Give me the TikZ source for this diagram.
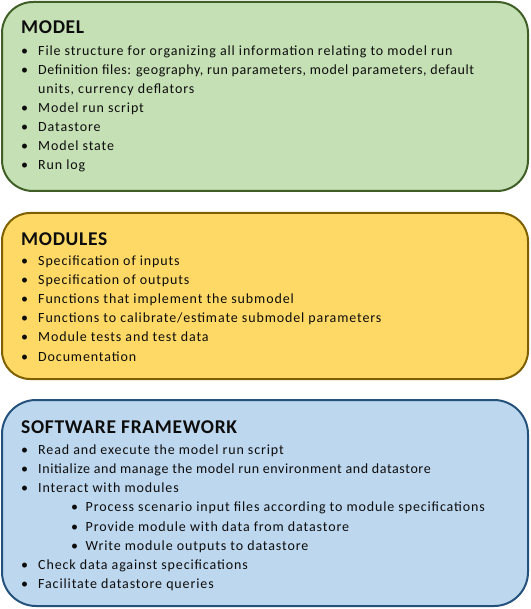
\documentclass[tikz,border=0pt]{standalone}
\usepackage{fontspec}
\setmainfont{Carlito}
\newfontfamily\bodyfam[LetterSpace=6.3]{Carlito}
\newfontfamily\tightfam[LetterSpace=4.2]{Carlito}
\newfontfamily\headfam[LetterSpace=3.5]{Carlito}
\definecolor{greenfill}{HTML}{C5E0B4}
\definecolor{greenline}{HTML}{3F5F26}
\definecolor{goldfill}{HTML}{FFD966}
\definecolor{goldline}{HTML}{7F6000}
\definecolor{bluefill}{HTML}{BDD7EE}
\definecolor{blueline}{HTML}{25527C}
\definecolor{ink}{HTML}{0D0D0D}
% bullet marker followed by a fixed gap before the item text
\newcommand\bul{\makebox[17pt][l]{\textbullet}}
\newcommand\subbul{\makebox[14.5pt][l]{\textbullet}}
\begin{document}
\begin{tikzpicture}[x=1pt,y=-1pt,
  panel/.style={rectangle, line width=2pt, inner sep=0pt},
  heading/.style={anchor=base west, inner sep=0pt, text=ink,
    font=\headfam\fontsize{19.5}{22}\selectfont\bfseries},
  entry/.style={anchor=base west, inner sep=0pt, text=ink,
    font=\bodyfam\fontsize{14}{17}\selectfont},
  tightentry/.style={entry, font=\tightfam\fontsize{14}{17}\selectfont}]
\useasboundingbox (0,0) rectangle (530,609);

% ---- MODEL panel
\node[panel, draw=greenline, fill=greenfill, rounded corners=31pt,
  minimum width=526pt, minimum height=189pt] (model) at (265,96.5) {};
\node[heading] (modelT) at (21,34) {MODEL};
\node[entry] (m1) at (21,56) {\bul File structure for organizing all information relating to model run};
\node[tightentry] (m2) at (21,75) {\bul Definition files: geography, run parameters, model parameters, default};
\node[entry] (m2b) at (38,94) {units, currency deflators};
\node[entry] (m3) at (21,113) {\bul Model run script};
\node[entry] (m4) at (21,132) {\bul Datastore};
\node[entry] (m5) at (21,151) {\bul Model state};
\node[entry] (m6) at (21,170) {\bul Run log};

% ---- MODULES panel
\node[panel, draw=goldline, fill=goldfill, rounded corners=28pt,
  minimum width=526pt, minimum height=166pt] (modules) at (265,296) {};
\node[heading] (modT) at (21,245) {MODULES};
\node[entry] (d1) at (21,265.5) {\bul Specification of inputs};
\node[entry] (d2) at (21,284.5) {\bul Specification of outputs};
\node[entry] (d3) at (21,303.5) {\bul Functions that implement the submodel};
\node[entry] (d4) at (21,322.5) {\bul Functions to calibrate/estimate submodel parameters};
\node[entry] (d5) at (21,341.5) {\bul Module tests and test data};
\node[entry] (d6) at (21,361) {\bul Documentation};

% ---- SOFTWARE FRAMEWORK panel
\node[panel, draw=blueline, fill=bluefill, rounded corners=34pt,
  minimum width=526pt, minimum height=206pt] (framework) at (265,503) {};
\node[heading] (fwT) at (21,433.5) {SOFTWARE FRAMEWORK};
\node[entry] (f1) at (21,454.5) {\bul Read and execute the model run script};
\node[tightentry] (f2) at (21,473.5) {\bul Initialize and manage the model run environment and datastore};
\node[entry] (f3) at (21,492.5) {\bul Interact with modules};
\node[entry] (f3a) at (71,511.5) {\subbul Process scenario input files according to module specifications};
\node[entry] (f3b) at (71,531) {\subbul Provide module with data from datastore};
\node[entry] (f3c) at (71,550) {\subbul Write module outputs to datastore};
\node[entry] (f4) at (21,569) {\bul Check data against specifications};
\node[entry] (f5) at (21,588.5) {\bul Facilitate datastore queries};
\end{tikzpicture}
\end{document}
